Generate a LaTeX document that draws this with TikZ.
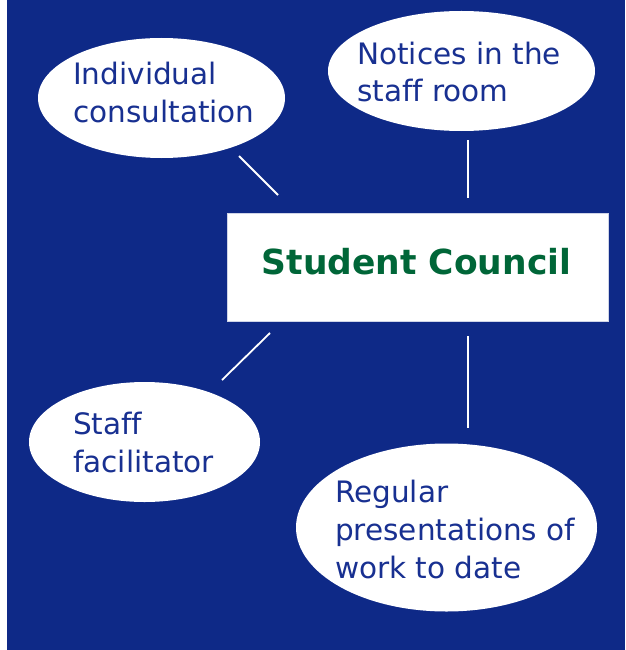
\documentclass[tikz,border=0pt]{standalone}
\usepackage{fontspec}
\setmainfont[Ligatures=NoCommon]{DejaVu Sans}
\usetikzlibrary{shapes.geometric}
\definecolor{bgblue}{RGB}{14,41,135}
\definecolor{txtblue}{RGB}{24,48,145}
\definecolor{scgreen}{RGB}{0,102,56}
\tikzset{
  bubble/.style={ellipse, fill=white, draw=none, inner sep=0pt},
  lbl/.style={anchor=base west, inner sep=0pt, text=txtblue, font=\fontsize{29.5}{38}\selectfont},
  link/.style={draw=white, line width=1.8pt},
  centerbox/.style={rectangle, fill=white, draw=white!80!bgblue, line width=0.6pt, inner sep=0pt,
     minimum width=381pt, minimum height=108pt},
  boxtext/.style={anchor=base, inner sep=0pt, text=scgreen, font=\bfseries\fontsize{34.5}{40}\selectfont}
}
\begin{document}
\begin{tikzpicture}[x=1pt,y=-1pt]
\useasboundingbox (0,0) rectangle (625,650);
\fill[white] (0,0) rectangle (625,650);
\fill[bgblue] (6.5,0) rectangle (625,650);

\node[centerbox] (sc) at (417.5,267) {};
\node[boxtext] (sct) at (416.5,274) {Student Council};

\node[bubble, minimum width=247pt, minimum height=120pt] (e1) at (161.5,98) {};
\node[bubble, minimum width=267pt, minimum height=120pt] (e2) at (461.5,71) {};
\node[bubble, minimum width=231pt, minimum height=120pt] (e3) at (144.5,442) {};
\node[bubble, minimum width=301pt, minimum height=168pt] (e4) at (446.5,527.5) {};

\node[lbl] (t1a) at (73,85) {Individual};
\node[lbl] (t1b) at (73,123) {consultation};
\node[lbl] (t2a) at (357,65) {Notices in the};
\node[lbl] (t2b) at (357,102) {staff room};
\node[lbl] (t3a) at (73,434) {Staff};
\node[lbl] (t3b) at (73,472) {facilitator};
\node[lbl] (t4a) at (335,502) {Regular};
\node[lbl] (t4b) at (335,540) {presentations of};
\node[lbl] (t4c) at (335,578) {work to date};

\coordinate (l1a) at (239,156);
\coordinate (l1b) at (278,195);
\coordinate (l2a) at (468,140);
\coordinate (l2b) at (468,198);
\coordinate (l3a) at (270,333);
\coordinate (l3b) at (222,380);
\coordinate (l4a) at (468,336);
\coordinate (l4b) at (468,428);
\draw[link] (l1a) -- (l1b);
\draw[link] (l2a) -- (l2b);
\draw[link] (l3a) -- (l3b);
\draw[link] (l4a) -- (l4b);
\end{tikzpicture}
\end{document}
